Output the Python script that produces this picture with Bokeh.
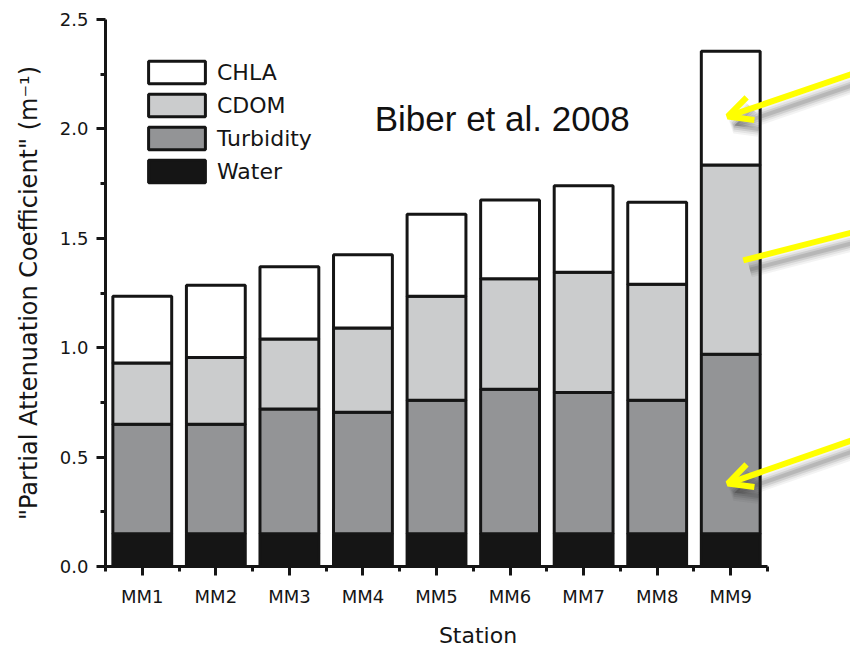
from bokeh.plotting import figure
from bokeh.models import (ColumnDataSource, FixedTicker, Legend, LegendItem, Label,
                          Arrow, OpenHead, Range1d, NumeralTickFormatter)
from bokeh.embed import file_html
from bokeh.resources import INLINE

# ---- data ----
stations = ["MM1", "MM2", "MM3", "MM4", "MM5", "MM6", "MM7", "MM8", "MM9"]
x_pos = [1, 2, 3, 4, 5, 6, 7, 8, 9]
water = [0.15, 0.15, 0.15, 0.15, 0.15, 0.15, 0.15, 0.15, 0.15]
turbidity = [0.50, 0.50, 0.57, 0.555, 0.61, 0.66, 0.645, 0.61, 0.82]
cdom = [0.28, 0.305, 0.32, 0.385, 0.475, 0.505, 0.55, 0.53, 0.865]
chla = [0.305, 0.33, 0.33, 0.335, 0.375, 0.36, 0.395, 0.375, 0.52]
series = ["water", "turbidity", "cdom", "chla"]
series_labels = ["Water", "Turbidity", "CDOM", "CHLA"]
series_colors = ["#151515", "#939496", "#cbcccd", "#ffffff"]
y_ticks = [0.0, 0.5, 1.0, 1.5, 2.0, 2.5]
y_minor = [0.25, 0.75, 1.25, 1.75, 2.25]
x_minor = [0.5, 1.5, 2.5, 3.5, 4.5, 5.5, 6.5, 7.5, 8.5, 9.5]

source = ColumnDataSource(dict(x=x_pos, station=stations, water=water,
                               turbidity=turbidity, cdom=cdom, chla=chla))

INK = "#151515"
FONT = "DejaVu Sans"

# the frame runs on to the right edge so that the call-out arrows are not clipped;
# the x axis itself is bounded to the stations
p = figure(width=850, height=650, x_range=Range1d(0.5, 10.628), y_range=Range1d(0, 2.5),
           output_backend="svg", toolbar_location=None,
           min_border_left=105, min_border_right=0, min_border_top=19, min_border_bottom=84)
p.outline_line_color = None
p.xgrid.visible = False
p.ygrid.visible = False
p.background_fill_color = "white"
p.border_fill_color = "white"

renderers = p.vbar_stack(series, x="x", width=0.8, source=source,
                         fill_color=series_colors, line_color=INK, line_width=3)

# axes
for ax in (p.xaxis[0], p.yaxis[0]):
    ax.axis_line_width = 3
    ax.axis_line_color = INK
    ax.major_tick_line_width = 3
    ax.minor_tick_line_width = 3
    ax.major_tick_line_color = INK
    ax.minor_tick_line_color = INK
    ax.major_tick_out = 9
    ax.major_tick_in = 0
    ax.minor_tick_out = 5
    ax.minor_tick_in = 0
    ax.major_label_text_font = FONT
    ax.major_label_text_color = INK
    ax.axis_label_text_font = FONT
    ax.axis_label_text_font_style = "normal"
    ax.axis_label_text_color = INK

p.xaxis.bounds = (0.5, 9.5)
p.xaxis.ticker = FixedTicker(ticks=x_pos, minor_ticks=x_minor)
p.xaxis.major_label_overrides = {x: s for x, s in zip(x_pos, stations)}
p.xaxis.major_label_text_font_size = "18px"
p.xaxis.major_label_standoff = 10
p.xaxis.axis_label = "Station"
p.xaxis.axis_label_text_font_size = "22px"
p.xaxis.axis_label_standoff = 13

p.yaxis.ticker = FixedTicker(ticks=y_ticks, minor_ticks=y_minor)
p.yaxis.formatter = NumeralTickFormatter(format="0.0")
p.yaxis.major_label_text_font_size = "18px"
p.yaxis.major_label_standoff = 8
p.yaxis.axis_label = "\"Partial Attenuation Coefficient\" (m\u207b\u00b9)"
p.yaxis.axis_label_text_font_size = "24px"
p.yaxis.axis_label_standoff = 14

# legend (top item = CHLA)
items = [LegendItem(label=lab, renderers=[r]) for lab, r in zip(series_labels, renderers)][::-1]
legend = Legend(items=items, location=(36, 381), padding=0, margin=0,
                glyph_width=71, glyph_height=28, spacing=5, label_standoff=5,
                label_height=22, label_text_font=FONT, label_text_font_size="22px",
                label_text_color=INK, border_line_color=None, background_fill_alpha=0)
p.add_layout(legend)

p.add_layout(Label(x=4.16, y=2.048, text="Biber et al. 2008", text_font="Liberation Sans",
                   text_font_size="35px", text_color="#111111", text_baseline="alphabetic"))

# annotation arrows (start, end in data units) with a soft, blurred-looking shadow
arrows = [
    (10.7, 2.257, 8.96, 2.057, True),
    (10.7, 1.531, 9.17, 1.399, False),
    (10.7, 0.583, 8.96, 0.379, True),
]
dx, dy = 0.09, -0.042
for w, a in [(16, 0.06), (12, 0.08), (8, 0.12), (4, 0.15)]:
    for xs, ys, xe, ye, head in arrows:
        p.add_layout(Arrow(x_start=xs + dx, y_start=ys + dy, x_end=xe + dx, y_end=ye + dy,
                           line_color="#333333", line_alpha=a, line_width=w,
                           end=OpenHead(size=22, line_color="#333333", line_alpha=a,
                                        line_width=w) if head else None))
for xs, ys, xe, ye, head in arrows:
    p.add_layout(Arrow(x_start=xs, y_start=ys, x_end=xe, y_end=ye,
                       line_color="#ffff00", line_width=6,
                       end=OpenHead(size=24, line_color="#ffff00", line_width=6) if head else None))

open("out.html", "w").write(file_html(p, INLINE))
